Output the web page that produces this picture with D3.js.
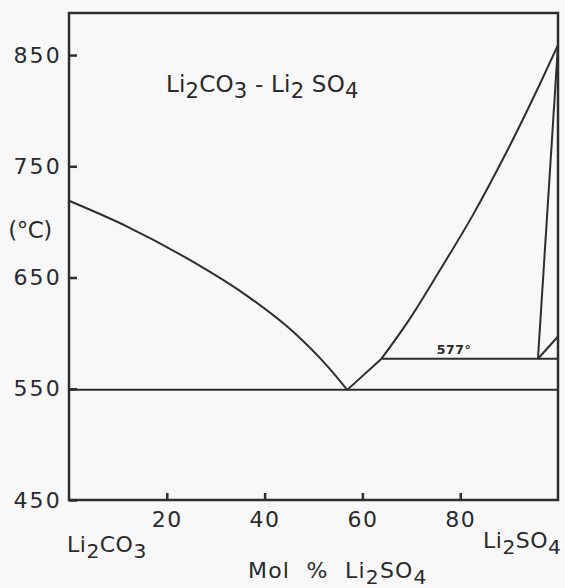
<!DOCTYPE html>
<html>
<head>
<meta charset="utf-8">
<script src="https://cdn.jsdelivr.net/npm/d3@7"></script>
<style>
  html, body { margin: 0; padding: 0; background: #f8f8f8; }
  svg { display: block; }
  text { font-family: "DejaVu Sans", sans-serif; fill: #2a2a2a; }
</style>
</head>
<body>
<svg id="chart" width="565" height="588"></svg>
<script>
// ---- data ----
const xTicks = [20, 40, 60, 80];
const yTicks = [450, 550, 650, 750, 850];

// Li2CO3-rich liquidus
const leftLiquidusX = [0, 11.8, 25.4, 35.6, 45.9, 52.7, 56.9];
const leftLiquidusT = [719, 696, 664, 636, 601, 571, 549];

// eutectic to peritectic segment
const eutPerX = [56.9, 63.9];
const eutPerT = [549, 577];

// Li2SO4-rich liquidus above peritectic
const rightLiquidusX = [63.9, 69.1, 75.9, 82.7, 89.5, 96.3, 100];
const rightLiquidusT = [577, 609, 657, 707, 763, 824, 859];

// solidus / solvus of Li2SO4 solid solution
const solvusX = [100, 95.9];
const solvusT = [859, 577];

// transition line
const transX = [95.9, 100];
const transT = [577, 597];

// isotherms
const eutecticX = [0, 100];
const eutecticT = [549, 549];
const peritecticX = [63.9, 100];
const peritecticT = [577, 577];
const peritecticLabel = "577°";

// ---- layout ----
const svg = d3.select("#chart");
const L = 69, R = 558, T = 13, B = 500;
const x = d3.scaleLinear().domain([0, 100]).range([L, R]);
const y = d3.scaleLinear().domain([450, 887.8]).range([B, T]);
const ink = "#2e2e2e";

const zip = (xs, ts) => xs.map((v, i) => [v, ts[i]]);
const lineLin = d3.line().x(d => x(d[0])).y(d => y(d[1]));
const lineCurve = d3.line().x(d => x(d[0])).y(d => y(d[1])).curve(d3.curveMonotoneX);

// axes
const yAxis = d3.axisLeft(y).tickValues(yTicks).tickSizeInner(-8).tickSizeOuter(0).tickPadding(7);
const gy = svg.append("g").attr("transform", `translate(${L},0)`).call(yAxis);
gy.select(".domain").remove();
gy.selectAll("line").attr("stroke", ink).attr("stroke-width", 2.5);
gy.selectAll("text").attr("font-size", 22).attr("letter-spacing", 2.2).attr("fill", "#2a2a2a")
  .style("font-family", "DejaVu Sans");

const xAxis = d3.axisBottom(x).tickValues(xTicks).tickSizeInner(-7).tickSizeOuter(0).tickPadding(11);
const gx = svg.append("g").attr("transform", `translate(0,${B})`).call(xAxis);
gx.select(".domain").remove();
gx.selectAll("line").attr("stroke", ink).attr("stroke-width", 2.5);
gx.selectAll("text").attr("font-size", 22).attr("letter-spacing", 1.5).attr("fill", "#2a2a2a")
  .style("font-family", "DejaVu Sans");

// frame
svg.append("rect").attr("x", L).attr("y", T).attr("width", R - L).attr("height", B - T)
  .attr("fill", "none").attr("stroke", ink).attr("stroke-width", 2.5);

// curves
const paths = [
  [lineCurve, zip(leftLiquidusX, leftLiquidusT)],
  [lineLin, zip(eutPerX, eutPerT)],
  [lineCurve, zip(rightLiquidusX, rightLiquidusT)],
  [lineLin, zip(solvusX, solvusT)],
  [lineLin, zip(transX, transT)],
  [lineLin, zip(eutecticX, eutecticT)],
  [lineLin, zip(peritecticX, peritecticT)]
];
paths.forEach(([gen, d]) => {
  svg.append("path").attr("d", gen(d)).attr("fill", "none")
    .attr("stroke", ink).attr("stroke-width", 2).attr("stroke-linejoin", "round");
});

function chem(xp, yp, parts, size, anchor, spacing) {
  const t = svg.append("text").attr("x", xp).attr("y", yp).attr("font-size", size)
    .attr("text-anchor", anchor || "start").attr("letter-spacing", spacing == null ? 0.5 : spacing)
    .style("white-space", "pre");
  let down = false;
  const drop = size * 0.27;
  parts.forEach(([s, sub]) => {
    const ts = t.append("tspan").text(s);
    if (sub && !down) { ts.attr("dy", drop).attr("font-size", size * 0.92); down = true; }
    else if (sub && down) { ts.attr("font-size", size * 0.92); }
    else if (!sub && down) { ts.attr("dy", -drop); down = false; }
  });
  return t;
}

// title
chem(166, 92, [["Li", false], ["2", true], ["CO", false], ["3", true], [" - Li", false], ["2", true], [" SO", false], ["4", true]], 23, "start", 0.2);

// peritectic label
svg.append("text").attr("x", 454).attr("y", 354).attr("font-size", 12.5).attr("font-weight", "bold")
  .attr("text-anchor", "middle").attr("letter-spacing", 0.5).text(peritecticLabel);

// unit label
svg.append("text").attr("x", 30).attr("y", 238).attr("font-size", 23).attr("text-anchor", "middle")
  .attr("letter-spacing", -0.5).text("(°C)");

// end-member labels
chem(67, 552, [["Li", false], ["2", true], ["CO", false], ["3", true]], 22);
chem(483, 548, [["Li", false], ["2", true], ["SO", false], ["4", true]], 22);

// x-axis title
chem(248, 578, [["Mol  %  Li", false], ["2", true], ["SO", false], ["4", true]], 22, "start", 1.2);
</script>
</body>
</html>
